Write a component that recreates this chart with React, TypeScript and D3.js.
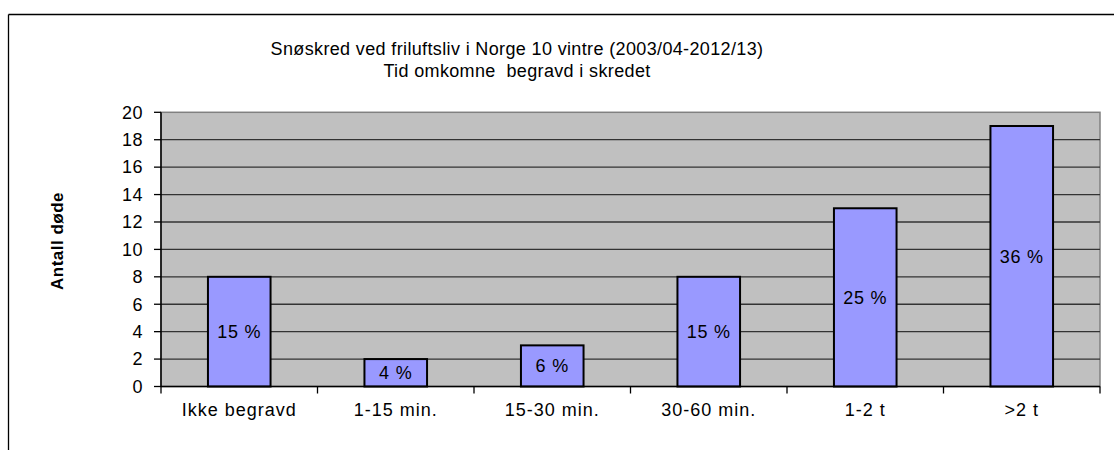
import React from "react";
import * as d3 from "d3";

const categories = ["Ikke begravd", "1-15 min.", "15-30 min.", "30-60 min.", "1-2 t", ">2 t"];
const values = [8, 2, 3, 8, 13, 19];
const percentLabels = ["15 %", "4 %", "6 %", "15 %", "25 %", "36 %"];
const yTicks = [0, 2, 4, 6, 8, 10, 12, 14, 16, 18, 20];
const titleLines = ["Snøskred ved friluftsliv i Norge 10 vintre (2003/04-2012/13)", "Tid omkomne  begravd i skredet"];
const yAxisTitle = "Antall døde";

const W = 1114;
const H = 450;
const plot = { left: 161, right: 1100, top: 112.3, bottom: 386.5 };
const FONT = "Arial, 'Liberation Sans', sans-serif";

export default function App() {
  const x = d3.scaleBand<string>().domain(categories).range([plot.left, plot.right]).padding(0);
  const y = d3.scaleLinear().domain([0, 20]).range([plot.bottom, plot.top]);
  const barW = x.bandwidth() * 0.4;
  const tickEdges = categories.map((c) => x(c) as number).concat([plot.right]);

  return (
    <svg width={W} height={H} style={{ position: "absolute", left: 0, top: 0, background: "#fff" }}>
      {/* outer frame */}
      <line x1={8.5} y1={14.5} x2={W} y2={14.5} stroke="#000" strokeWidth={1.3} />
      <line x1={8.5} y1={14.5} x2={8.5} y2={H} stroke="#000" strokeWidth={1.3} />

      {/* title */}
      <text x={517} y={55} textAnchor="middle" fontFamily={FONT} fontSize={18} fill="#000" letterSpacing={0.36}>
        {titleLines[0]}
      </text>
      <text x={517} y={77} textAnchor="middle" fontFamily={FONT} fontSize={18} fill="#000" letterSpacing={0.36} style={{ whiteSpace: "pre" }}>
        {titleLines[1]}
      </text>

      {/* plot area */}
      <rect x={plot.left} y={plot.top} width={plot.right - plot.left} height={plot.bottom - plot.top} fill="#c0c0c0" stroke="#808080" strokeWidth={1.5} />

      {/* gridlines */}
      {yTicks.filter((t) => t > 0 && t < 20).map((t) => (
        <line key={"g" + t} x1={plot.left} x2={plot.right} y1={y(t)} y2={y(t)} stroke="#333" strokeWidth={1.3} />
      ))}

      {/* bars */}
      {categories.map((c, i) => {
        const cx = (x(c) as number) + x.bandwidth() / 2;
        return (
          <g key={c}>
            <rect x={cx - barW / 2} y={y(values[i])} width={barW} height={y(0) - y(values[i])} fill="#9999ff" stroke="#000" strokeWidth={2} />
            <text x={cx} y={y(values[i] / 2)} dy="0.35em" textAnchor="middle" fontFamily={FONT} fontSize={18} fill="#000" letterSpacing={0.8}>
              {percentLabels[i]}
            </text>
          </g>
        );
      })}

      {/* y axis */}
      <line x1={plot.left} x2={plot.left} y1={plot.top} y2={plot.bottom} stroke="#000" strokeWidth={1.5} />
      {yTicks.map((t) => (
        <g key={"y" + t}>
          <line x1={plot.left - 7} x2={plot.left} y1={y(t)} y2={y(t)} stroke="#000" strokeWidth={1.3} />
          <text x={143} y={y(t)} dy="0.35em" textAnchor="end" fontFamily={FONT} fontSize={18} fill="#000" letterSpacing={0.5}>
            {t}
          </text>
        </g>
      ))}

      {/* x axis */}
      <line x1={plot.left} x2={plot.right} y1={plot.bottom} y2={plot.bottom} stroke="#000" strokeWidth={1.5} />
      {tickEdges.map((e, i) => (
        <line key={"xt" + i} x1={e} x2={e} y1={plot.bottom} y2={plot.bottom + 7} stroke="#000" strokeWidth={1.3} />
      ))}
      {categories.map((c) => (
        <text key={"xl" + c} x={(x(c) as number) + x.bandwidth() / 2} y={416} textAnchor="middle" fontFamily={FONT} fontSize={18} fill="#000" letterSpacing={1.0}>
          {c}
        </text>
      ))}

      {/* y axis title */}
      <text transform={`translate(63, 241) rotate(-90)`} textAnchor="middle" fontFamily={FONT} fontSize={17} fontWeight="bold" fill="#000" letterSpacing={0.5}>
        {yAxisTitle}
      </text>
    </svg>
  );
}
